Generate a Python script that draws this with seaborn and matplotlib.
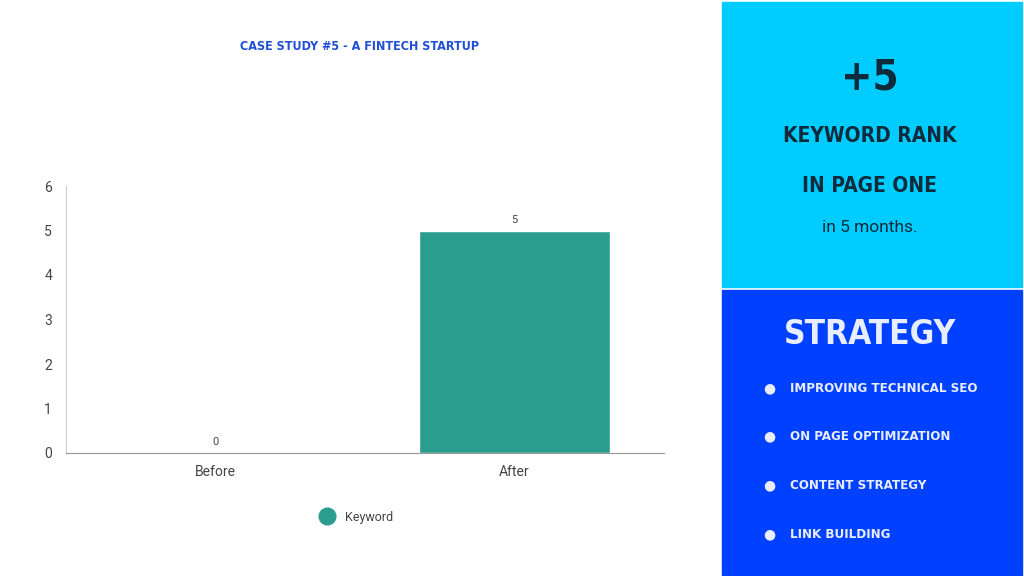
import matplotlib
matplotlib.use("Agg")
import matplotlib.pyplot as plt
import matplotlib.patches as mpatches
from matplotlib.lines import Line2D
import seaborn as sns
import pandas as pd

# data
periods = ["Before", "After"]
keywords = [0, 5]
strategy_items = ["IMPROVING TECHNICAL SEO", "ON PAGE OPTIMIZATION",
                  "CONTENT STRATEGY", "LINK BUILDING"]

sns.set_style("white")
plt.rcParams["font.family"] = ["Roboto", "DejaVu Sans"]

HEAD = ["DejaVu Sans", "Roboto"]
BAR_COLOR = "#2a9d8f"

fig = plt.figure(figsize=(10.24, 5.76), dpi=100)
ax = fig.add_axes([66 / 1024, 1 - 453 / 576, 598 / 1024, (453 - 186) / 576])

df = pd.DataFrame({"period": periods, "keyword": keywords})
sns.barplot(data=df, x="period", y="keyword", color=BAR_COLOR, width=0.64,
            saturation=1, ax=ax)
for c in ax.containers:
    ax.bar_label(c, labels=[str(v) for v in keywords], padding=4,
                 fontsize=8, color="#444444")

ax.set_xlim(-0.5, 1.5)
ax.set_ylim(0, 6)
ax.set_yticks(range(7))
ax.set_xlabel("")
ax.set_ylabel("")
ax.tick_params(axis="both", length=0, labelsize=10, colors="#444444")
ax.tick_params(axis="y", pad=10)
ax.tick_params(axis="x", pad=9)
sns.despine(ax=ax, top=True, right=True)
ax.spines["left"].set_color("#cccccc")
ax.spines["bottom"].set_color("#999999")

leg_handle = Line2D([], [], marker="o", linestyle="", markersize=12,
                    markerfacecolor=BAR_COLOR, markeredgecolor=BAR_COLOR)
fig.legend([leg_handle], ["Keyword"], loc="center",
           bbox_to_anchor=(354 / 1024, 1 - 517 / 576), frameon=False,
           fontsize=9, handletextpad=0.4, labelcolor="#444444")

hd = dict(fontweight="bold", family=HEAD, fontstretch="condensed")

fig.text(360 / 1024, 1 - 47 / 576, "CASE STUDY #5 - A FINTECH STARTUP",
         ha="center", va="center", fontsize=9, color="#1f4fd6", **hd)

# right side panels
fig.patches.append(mpatches.Rectangle((722 / 1024, 1 - 287 / 576), 300 / 1024, 285 / 576,
                                      transform=fig.transFigure, color="#00ccff", zorder=0))
fig.patches.append(mpatches.Rectangle((722 / 1024, 1 - 575 / 576), 300 / 1024, 285 / 576,
                                      transform=fig.transFigure, color="#0040ff", zorder=0))

cx = 870 / 1024
fig.text(cx, 1 - 78 / 576, "+5", ha="center", va="center", fontsize=30,
         color="#0f2a3a", **hd)
fig.text(cx, 1 - 136 / 576, "KEYWORD RANK", ha="center", va="center", fontsize=15,
         color="#0f2a3a", **hd)
fig.text(cx, 1 - 186 / 576, "IN PAGE ONE", ha="center", va="center", fontsize=15,
         color="#0f2a3a", **hd)
fig.text(cx, 1 - 228 / 576, "in 5 months.", ha="center", va="center", fontsize=12.5,
         color="#0f2a3a")

fig.text(cx, 1 - 335 / 576, "STRATEGY", ha="center", va="center", fontsize=24,
         color="#e8eeff", **hd)
for i, item in enumerate(strategy_items):
    y = 1 - (388 + i * 48.7) / 576
    fig.text(769 / 1024, y, "\u25cf", ha="center", va="center", fontsize=10,
             color="#e8eeff", family=["DejaVu Sans"])
    fig.text(790 / 1024, y, item, ha="left", va="center", fontsize=9.5,
             color="#e8eeff", **hd)

fig.savefig("out.png", dpi=100)
